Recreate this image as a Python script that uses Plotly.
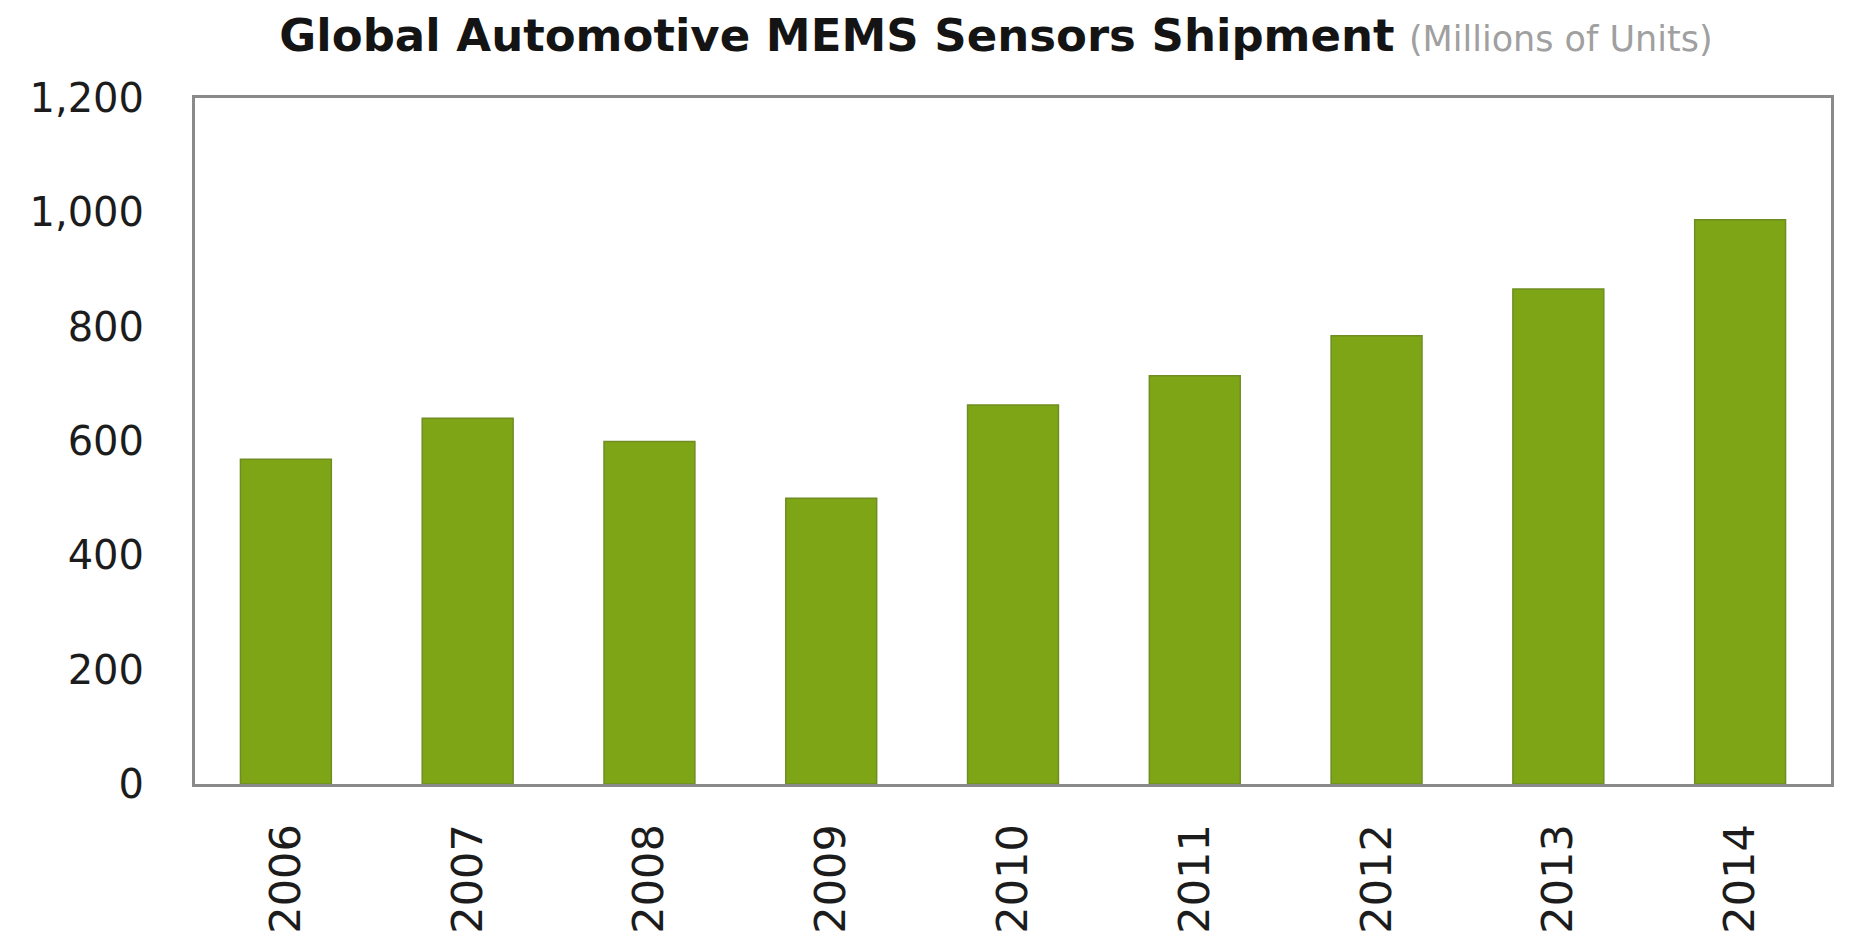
import plotly.graph_objects as go

# Annual shipments of automotive MEMS sensors, millions of units
years = ["2006", "2007", "2008", "2009", "2010", "2011", "2012", "2013", "2014"]
shipments = [568, 640, 599, 500, 663, 714, 784, 866, 987]

y_ticks = [0, 200, 400, 600, 800, 1000, 1200]
y_tick_text = ["0", "200", "400", "600", "800", "1,000", "1,200"]

bar_fill = "#7ea515"
bar_edge = "#6f8d22"
frame_grey = "#8a8a8a"

fig = go.Figure(
    go.Bar(
        x=years,
        y=shipments,
        marker=dict(color=bar_fill, line=dict(color=bar_edge, width=1.5)),
        hoverinfo="x+y",
    )
)

fig.update_layout(
    width=1849,
    height=940,
    margin=dict(l=195, r=18, t=98, b=156),
    paper_bgcolor="white",
    plot_bgcolor="white",
    bargap=0.5,
    showlegend=False,
    title=dict(
        text=(
            "<b>Global Automotive MEMS Sensors Shipment</b> "
            "<span style='color:#a0a0a0;font-size:35px'>(Millions of Units)</span>"
        ),
        x=996 / 1849,
        xanchor="center",
        y=1 - 35 / 940,
        yanchor="middle",
        font=dict(family="DejaVu Sans", size=45, color="#141414"),
    ),
)

fig.update_xaxes(
    type="category",
    automargin=False,
    tickangle=-90,
    tickfont=dict(family="DejaVu Sans", size=43, color="#1c1c1c"),
    ticklabelstandoff=20,
    showgrid=False,
    showline=True,
    linecolor=frame_grey,
    linewidth=3,
    mirror=True,
    ticks="",
)

fig.update_yaxes(
    range=[0, 1200],
    automargin=False,
    tickvals=y_ticks,
    ticktext=y_tick_text,
    tickfont=dict(family="DejaVu Sans", size=40, color="#1c1c1c"),
    ticklabelstandoff=40,
    showgrid=False,
    zeroline=False,
    showline=True,
    linecolor=frame_grey,
    linewidth=3,
    mirror=True,
    ticks="",
)

fig.write_html("out.html")
